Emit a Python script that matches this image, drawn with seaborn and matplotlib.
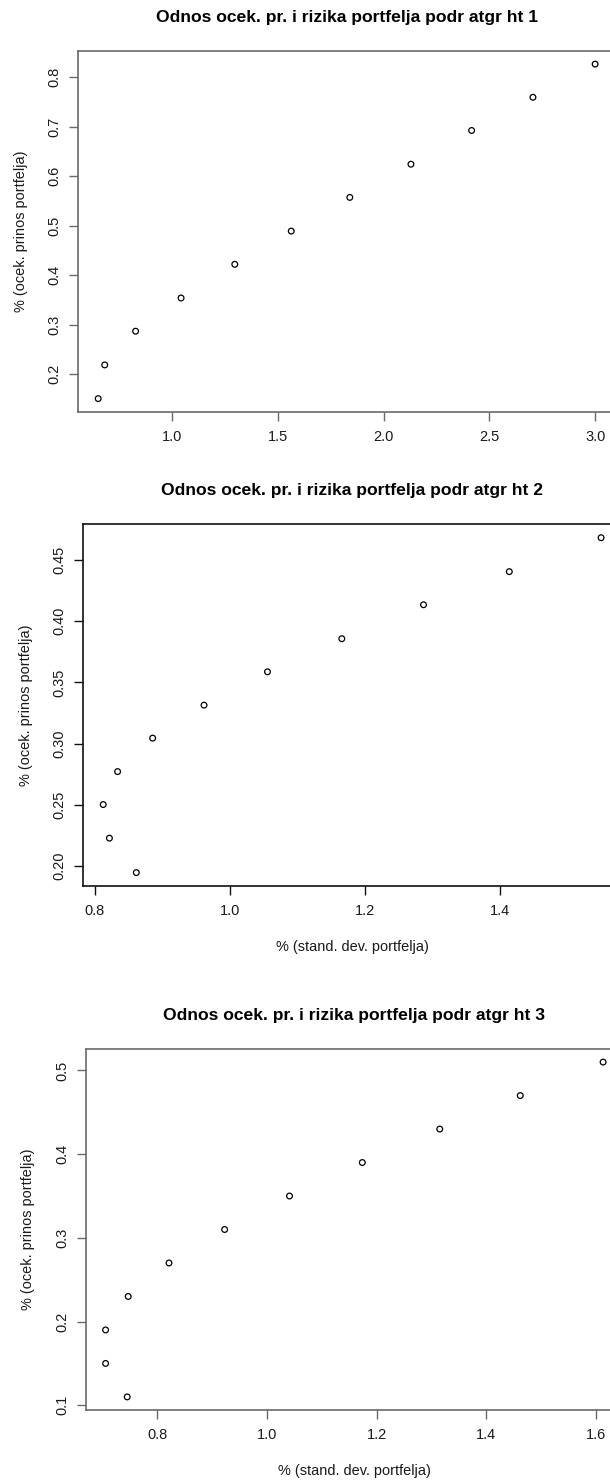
import matplotlib
matplotlib.use("Agg")
import matplotlib.pyplot as plt
import seaborn as sns
import numpy as np
import pandas as pd

# ---- data ----
titles = ["Odnos ocek. pr. i rizika portfelja podr atgr ht 1",
          "Odnos ocek. pr. i rizika portfelja podr atgr ht 2",
          "Odnos ocek. pr. i rizika portfelja podr atgr ht 3"]
ylabel = "% (ocek. prinos portfelja)"
xlabel = "% (stand. dev. portfelja)"

risk1 = [0.650, 0.681, 0.827, 1.042, 1.296, 1.563, 1.840, 2.129, 2.416, 2.706, 3.000]
ret1 = [0.151, 0.219, 0.287, 0.354, 0.422, 0.489, 0.557, 0.624, 0.692, 0.759, 0.826]

risk2 = [0.8617, 0.8219, 0.8127, 0.8340, 0.8859, 0.9620, 1.0559, 1.1660, 1.2870, 1.4140, 1.5499]
ret2 = [0.1943, 0.2225, 0.2500, 0.2770, 0.3044, 0.3314, 0.3587, 0.3858, 0.4136, 0.4407, 0.4685]

risk3 = [0.7450, 0.7056, 0.7056, 0.7468, 0.8213, 0.9228, 1.0412, 1.1740, 1.3153, 1.4622, 1.6134]
ret3 = [0.11, 0.15, 0.19, 0.23, 0.27, 0.31, 0.35, 0.39, 0.43, 0.47, 0.51]

xticks1 = [1.0, 1.5, 2.0, 2.5, 3.0]
xticklabels1 = ["1.0", "1.5", "2.0", "2.5", "3.0"]
yticks1 = [0.2, 0.3, 0.4, 0.5, 0.6, 0.7, 0.8]
yticklabels1 = ["0.2", "0.3", "0.4", "0.5", "0.6", "0.7", "0.8"]

xticks2 = [0.8, 1.0, 1.2, 1.4]
xticklabels2 = ["0.8", "1.0", "1.2", "1.4"]
yticks2 = [0.20, 0.25, 0.30, 0.35, 0.40, 0.45]
yticklabels2 = ["0.20", "0.25", "0.30", "0.35", "0.40", "0.45"]

xticks3 = [0.8, 1.0, 1.2, 1.4, 1.6]
xticklabels3 = ["0.8", "1.0", "1.2", "1.4", "1.6"]
yticks3 = [0.1, 0.2, 0.3, 0.4, 0.5]
yticklabels3 = ["0.1", "0.2", "0.3", "0.4", "0.5"]

# ---- style ----
sns.set_style("white")
FONT = ["Liberation Sans", "DejaVu Sans"]
plt.rcParams["font.family"] = FONT

W, H = 610, 1483
DPI = 100
fig = plt.figure(figsize=(W / DPI, H / DPI), dpi=DPI)
fig.patch.set_facecolor("white")

PX = 72.0 / DPI  # points per pixel

# panel boxes in pixels: left, top, right, bottom
boxes = [(78.3, 50.7, 615.0, 412.0),
         (83.3, 524.3, 621.0, 886.0),
         (85.7, 1048.7, 623.0, 1410.3)]
spine_cols = ["#6a6a6a", "#111111", "#6a6a6a"]

panels = [
    (risk1, ret1, xticks1, xticklabels1, yticks1, yticklabels1, False),
    (risk2, ret2, xticks2, xticklabels2, yticks2, yticklabels2, True),
    (risk3, ret3, xticks3, xticklabels3, yticks3, yticklabels3, True),
]

TICK_PX = 14.5
TICK_FS = TICK_PX * PX
TITLE_FS = 17.5 * PX
TXT = "#1a1a1a"

for i, (xs, ys, xt, xtl, yt, ytl, show_xlabel) in enumerate(panels):
    l, t, r, b = boxes[i]
    wpx, hpx = r - l, b - t
    ax = fig.add_axes([l / W, 1 - b / H, wpx / W, hpx / H])
    df = pd.DataFrame({"risk": xs, "ret": ys})
    sns.scatterplot(data=df, x="risk", y="ret", ax=ax, marker="o", s=17,
                    color="black", linewidth=0.9, legend=False)
    for c in ax.collections:
        c.set_facecolor("none")
        c.set_edgecolor("black")
        c.set_linewidth(0.9)

    # R-style 4% axis extension
    xr = max(xs) - min(xs)
    yr = max(ys) - min(ys)
    ax.set_xlim(min(xs) - 0.04 * xr, max(xs) + 0.04 * xr)
    ax.set_ylim(min(ys) - 0.04 * yr, max(ys) + 0.04 * yr)

    ax.set_xticks(xt)
    ax.set_xticklabels(xtl)
    ax.set_yticks(yt)
    ax.set_yticklabels(ytl, rotation=90, va="center")

    for sp in ax.spines.values():
        sp.set_visible(True)
        sp.set_color(spine_cols[i])
        sp.set_linewidth(1.2)

    ax.tick_params(axis="both", which="major", direction="out", length=9 * PX,
                   width=1.0, color=spine_cols[i], labelsize=TICK_FS, labelcolor=TXT)
    ax.tick_params(axis="x", pad=9.1 * PX, bottom=True)
    ax.tick_params(axis="y", pad=7.7 * PX, left=True)

    ax.set_ylabel(ylabel, fontsize=TICK_FS, color=TXT)
    ax.yaxis.label.set_verticalalignment("center")
    ax.yaxis.set_label_coords(-57.7 / wpx, 0.5)

    if show_xlabel:
        ax.set_xlabel(xlabel, fontsize=TICK_FS, color=TXT)
        ax.xaxis.label.set_verticalalignment("center")
        ax.xaxis.set_label_coords(0.5, -60.7 / hpx)
    else:
        ax.set_xlabel("")

    ax.text(0.5, 1 + 33.5 / hpx, titles[i], transform=ax.transAxes,
            ha="center", va="center", fontsize=TITLE_FS, fontweight="bold",
            color="black", family=FONT)

fig.savefig("out.png", dpi=DPI, facecolor="white")
